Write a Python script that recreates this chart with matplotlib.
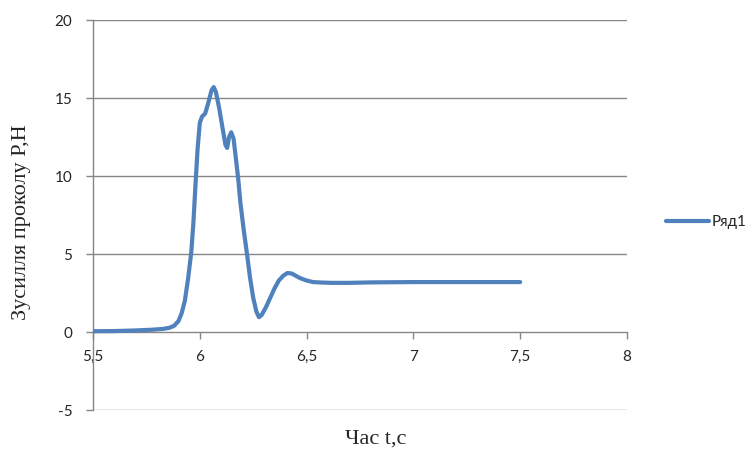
import matplotlib
matplotlib.use("Agg")
import matplotlib.pyplot as plt

# Puncture force vs. time
t_s = [5.50, 5.60, 5.70, 5.78, 5.83, 5.86, 5.88, 5.90, 5.915, 5.93, 5.945,
       5.96, 5.97, 5.98, 5.99, 6.00, 6.01, 6.025, 6.04, 6.055, 6.065, 6.075,
       6.09, 6.105, 6.12, 6.128, 6.137, 6.147, 6.158, 6.17, 6.18, 6.19,
       6.205, 6.22, 6.235, 6.25, 6.265, 6.277, 6.29, 6.31, 6.33, 6.35, 6.37,
       6.39, 6.41, 6.43, 6.45, 6.47, 6.50, 6.53, 6.57, 6.62, 6.70, 6.80,
       7.00, 7.20, 7.50]
force_n = [0.05, 0.06, 0.10, 0.15, 0.20, 0.28, 0.40, 0.70, 1.2, 2.0, 3.4,
           5.1, 7.0, 9.5, 11.8, 13.4, 13.8, 14.0, 14.7, 15.5, 15.7, 15.4,
           14.4, 13.2, 12.0, 11.8, 12.5, 12.8, 12.4, 11.0, 9.8, 8.3,
           6.6, 5.1, 3.5, 2.2, 1.3, 0.95, 1.1, 1.6, 2.2, 2.8, 3.3,
           3.6, 3.78, 3.75, 3.6, 3.45, 3.3, 3.2, 3.17, 3.15, 3.15, 3.18,
           3.2, 3.2, 3.2]

x_ticks = [5.5, 6, 6.5, 7, 7.5, 8]
x_tick_labels = ["5,5", "6", "6,5", "7", "7,5", "8"]
y_ticks = [-5, 0, 5, 10, 15, 20]
y_tick_labels = ["-5", "0", "5", "10", "15", "20"]
series_name = "Ряд1"

W, H = 745, 455
fig = plt.figure(figsize=(W / 100, H / 100), dpi=100)
ax = fig.add_axes([93 / W, 1 - 410 / H, (627 - 93) / W, (410 - 20) / H])

grid_c = "#868686"
text_c = "#262626"
line, = ax.plot(t_s, force_n, color="#4F81BD", lw=3.0, solid_capstyle="round",
                solid_joinstyle="round", label=series_name, zorder=3)

ax.set_xlim(5.5, 8)
ax.set_ylim(-5, 20)
ax.set_xticks(x_ticks)
ax.set_xticklabels(x_tick_labels)
ax.set_yticks(y_ticks)
ax.set_yticklabels(y_tick_labels)

for yv in y_ticks:
    if yv != 0:
        ax.axhline(yv, color=grid_c, lw=1.0, zorder=1)

for side in ("top", "right"):
    ax.spines[side].set_visible(False)
ax.spines["bottom"].set_position(("data", 0))
for side in ("left", "bottom"):
    ax.spines[side].set_color(grid_c)
    ax.spines[side].set_linewidth(1.0)

tick_font = "Lato"
ax.tick_params(axis="both", colors=grid_c, length=5, width=1.0, labelsize=11,
               labelcolor=text_c)
ax.tick_params(axis="x", direction="out", pad=8)
ax.tick_params(axis="y", direction="out", pad=10)
for lbl in ax.get_xticklabels() + ax.get_yticklabels():
    lbl.set_fontfamily(tick_font)

fig.text(22 / W, 1 - 222 / H, "Зусилля проколу P,H", rotation=90,
         ha="center", va="center", fontsize=16, family="Liberation Serif",
         color=text_c)
fig.text(376 / W, 1 - 439 / H, "Час t,с", ha="center", va="center",
         fontsize=16, family="Liberation Serif", color=text_c)

leg = fig.legend(handles=[line], loc="center left",
                 bbox_to_anchor=(652 / W, 1 - 222 / H), frameon=False,
                 handlelength=2.8, handletextpad=0.2,
                 prop={"family": tick_font, "size": 11})
for txt in leg.get_texts():
    txt.set_color(text_c)

fig.savefig("out.png", dpi=100)
